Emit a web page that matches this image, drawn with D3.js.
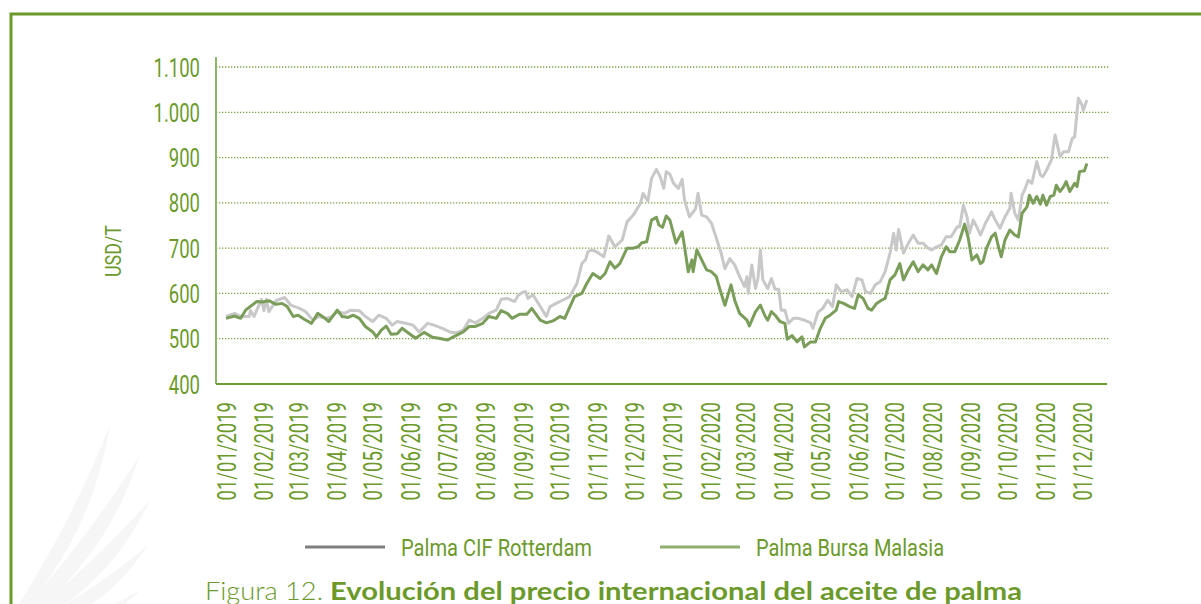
<!DOCTYPE html>
<html>
<head>
<meta charset="utf-8">
<script src="https://cdn.jsdelivr.net/npm/d3@7"></script>
<style>
  body { margin: 0; background: #fff; }
  svg { display: block; }
</style>
</head>
<body>
<div id="chart"></div>
<script>
// Data: day offsets are days since 01/01/2019
const cifDay = [0,7,12,19,20,23,29,31,33,35,41,48,53,60,65,71,76,82,87,91,97,102,109,114,120,125,131,136,140,147,153,158,165,170,177,183,188,194,199,204,210,215,221,225,230,236,239,243,245,247,251,257,262,265,270,276,281,287,291,294,296,299,303,309,313,318,324,328,333,339,341,345,348,352,355,358,360,363,366,370,373,375,379,384,386,389,393,397,401,405,408,412,416,420,424,426,427,430,433,435,437,439,443,446,449,452,454,457,460,464,468,472,478,480,484,488,492,496,499,503,508,512,516,520,523,527,531,535,539,543,546,548,550,554,558,562,566,570,574,577,581,585,589,593,598,600,603,606,608,611,614,617,621,626,629,633,637,641,642,645,648,651,653,656,659,663,666,668,671,675,678,682,685,689,692,694,697,700,701,704];
const cifValue = [549,556,549,549,562,549,587,562,587,560,584,591,574,567,560,541,549,545,549,560,556,563,562,549,538,552,545,530,538,534,530,515,534,530,523,515,513,519,541,535,545,556,563,587,589,582,596,603,604,589,597,571,549,571,578,586,593,622,666,674,692,696,692,681,727,703,718,758,773,799,821,804,854,874,858,832,869,863,843,832,852,806,769,787,821,773,769,755,722,688,655,677,663,637,615,637,600,663,611,633,696,630,611,633,609,609,563,563,534,545,545,542,535,523,558,567,585,571,619,604,608,593,633,630,604,600,619,626,648,689,733,696,741,689,711,729,711,711,700,696,703,707,725,725,747,747,795,769,733,762,747,729,755,780,762,744,769,788,821,777,762,817,828,850,843,891,861,858,872,895,950,902,913,913,942,946,1031,1016,1004,1027];

const bursaDay = [0,7,12,16,25,30,35,41,46,50,55,59,64,70,75,80,84,91,95,100,104,109,114,120,123,127,131,135,140,144,150,155,162,169,174,181,188,194,199,204,210,215,221,225,230,234,240,246,250,257,262,268,273,277,280,285,291,295,300,306,310,314,318,322,328,333,337,340,344,348,352,354,357,360,363,368,373,375,378,381,382,385,389,393,397,401,404,408,413,416,420,426,428,433,437,441,443,446,450,453,457,459,463,467,471,473,478,482,486,490,494,499,501,505,510,514,517,521,525,528,532,536,539,543,547,551,554,558,562,566,570,574,577,581,585,589,592,596,600,604,607,610,614,617,619,622,626,629,632,634,637,641,645,648,651,655,657,660,663,666,668,671,674,677,679,682,685,687,690,694,696,698,702,704];
const bursaValue = [545,550,545,563,582,581,584,576,578,571,549,552,543,534,556,547,538,563,549,547,552,545,527,515,504,519,528,510,511,523,511,501,514,503,501,497,507,515,527,527,534,549,545,562,556,545,554,554,567,541,535,540,549,545,563,593,600,622,644,633,644,670,656,666,700,700,703,712,714,762,768,751,746,771,762,711,736,703,648,674,648,696,674,652,648,637,608,574,619,585,556,541,528,560,574,549,541,560,549,538,534,499,507,493,504,482,493,493,523,545,552,563,582,578,571,567,597,589,567,563,578,585,589,630,641,666,630,652,670,648,663,652,663,644,681,703,692,692,718,753,722,674,685,666,670,700,725,733,700,681,718,740,729,725,777,791,817,799,814,797,817,795,814,817,839,825,836,847,825,843,836,869,871,887];

const seriesNames = ["Palma CIF Rotterdam", "Palma Bursa Malasia"];
const yTicks = [400, 500, 600, 700, 800, 900, 1000, 1100];
// tick labels as printed (the 13th one repeats 2019 in the original)
const xTickLabels = ["01/01/2019","01/02/2019","01/03/2019","01/04/2019","01/05/2019","01/06/2019",
  "01/07/2019","01/08/2019","01/09/2019","01/10/2019","01/11/2019","01/12/2019",
  "01/01/2019","01/02/2020","01/03/2020","01/04/2020","01/05/2020","01/06/2020",
  "01/07/2020","01/08/2020","01/09/2020","01/10/2020","01/11/2020","01/12/2020"];

const green = "#6b9a2b";
const lineGray = "#c8c8c8";
const lineGreen = "#7a9d5a";
const condensed = "Roboto, 'Noto Sans', sans-serif";
const squeeze = 0.74;   // the original uses a condensed face

const start = new Date(2019, 0, 1);
const toDate = d => d3.timeDay.offset(start, d);
const cif = cifDay.map((d, i) => ({date: toDate(d), value: cifValue[i]}));
const bursa = bursaDay.map((d, i) => ({date: toDate(d), value: bursaValue[i]}));
const tickDates = xTickLabels.map((_, i) => new Date(2019, i, 1));

const W = 1201, H = 604;
const plot = {left: 216, right: 1107, top: 67, bottom: 384};

const svg = d3.select("#chart").append("svg")
  .attr("width", W).attr("height", H);

// faint palm-leaf watermark, bottom left
const wm = svg.append("g").attr("fill", "#f6f6f6");
const ox = -5, oy = 640;
[[110, 425, 14], [140, 455, 16], [150, 500, 16], [148, 545, 14], [140, 590, 12]].forEach(([tx, ty, w]) => {
  const mx = (ox + tx) / 2, my = (oy + ty) / 2;
  const dx = tx - ox, dy = ty - oy, len = Math.hypot(dx, dy);
  const nx = -dy / len, ny = dx / len;
  const bend = 28;
  wm.append("path")
    .attr("d", `M${ox},${oy} Q${mx + nx * (bend + w)},${my + ny * (bend + w)} ${tx},${ty} Q${mx + nx * (bend - w)},${my + ny * (bend - w)} ${ox},${oy}Z`);
});

// frame
svg.append("path")
  .attr("d", "M11,604 L11,14 L1201,14")
  .attr("fill", "none").attr("stroke", green).attr("stroke-width", 3);

const x = d3.scaleTime()
  .domain([new Date(2019, 0, 1), new Date(2020, 11, 1)])
  .range([226, 1082]);
const y = d3.scaleLinear().domain([400, 1100]).range([plot.bottom, plot.top]);

const fmt = d3.formatLocale({decimal: ",", thousands: ".", grouping: [3], currency: ["", ""]}).format(",");

// gridlines
svg.append("g").selectAll("line")
  .data(yTicks.filter(v => v > 400))
  .join("line")
  .attr("x1", plot.left).attr("x2", 1110)
  .attr("y1", d => y(d)).attr("y2", d => y(d))
  .attr("stroke", "#7aa23f").attr("stroke-width", 1.3)
  .attr("stroke-dasharray", "1.3,1.7");

// y axis
const yAxis = svg.append("g")
  .attr("transform", `translate(${plot.left},0)`)
  .call(d3.axisLeft(y).tickValues(yTicks).tickFormat(fmt).tickSize(0));
yAxis.select(".domain").remove();
yAxis.selectAll("text")
  .attr("fill", green).style("font-family", condensed).style("font-size", "25px")
  .attr("x", -16 / squeeze).attr("dy", "0.36em")
  .attr("transform", `scale(${squeeze},1)`);

svg.append("line")
  .attr("x1", plot.left).attr("x2", plot.left)
  .attr("y1", 57).attr("y2", plot.bottom)
  .attr("stroke", "#8fb46a").attr("stroke-width", 2);

// x axis
const xAxis = svg.append("g")
  .attr("transform", `translate(0,${plot.bottom})`)
  .call(d3.axisBottom(x).tickValues(tickDates).tickFormat((d, i) => xTickLabels[i]).tickSize(0));
xAxis.select(".domain").remove();
xAxis.selectAll("text")
  .attr("fill", green).style("font-family", condensed).style("font-size", "25px")
  .attr("text-anchor", "end")
  .attr("transform", `rotate(-90) scale(${squeeze},1)`)
  .attr("x", -18 / squeeze).attr("y", 0).attr("dy", "0.36em");

svg.append("line")
  .attr("x1", plot.left).attr("x2", plot.right)
  .attr("y1", plot.bottom).attr("y2", plot.bottom)
  .attr("stroke", "#6f9c35").attr("stroke-width", 2);

// y label
svg.append("text")
  .attr("transform", "translate(121,251) rotate(-90)")
  .attr("text-anchor", "middle")
  .attr("fill", green).style("font-family", condensed).style("font-size", "22px")
  .attr("textLength", 52).attr("lengthAdjust", "spacingAndGlyphs")
  .text("USD/T");

// lines
const line = d3.line().x(d => x(d.date)).y(d => y(d.value));
svg.append("path").datum(cif)
  .attr("d", line).attr("fill", "none")
  .attr("stroke", lineGray).attr("stroke-width", 3).attr("stroke-linejoin", "round");
svg.append("path").datum(bursa)
  .attr("d", line).attr("fill", "none")
  .attr("stroke", lineGreen).attr("stroke-width", 3).attr("stroke-linejoin", "round");

// legend
const legend = svg.append("g");
const legendItems = [
  {name: seriesNames[0], color: "#7f7f7f", x: 305, w: 191},
  {name: seriesNames[1], color: "#8fae6f", x: 660, w: 188}
];
legendItems.forEach(it => {
  legend.append("line")
    .attr("x1", it.x).attr("x2", it.x + 80)
    .attr("y1", 547).attr("y2", 547)
    .attr("stroke", it.color).attr("stroke-width", 3);
  legend.append("text")
    .attr("x", it.x + 96).attr("y", 556)
    .attr("fill", green).style("font-family", condensed).style("font-size", "24px")
    .attr("textLength", it.w).attr("lengthAdjust", "spacingAndGlyphs")
    .text(it.name);
});

// caption
const cap = svg.append("text")
  .attr("x", 205).attr("y", 600)
  .attr("fill", green).style("font-family", "Lato, 'Open Sans', sans-serif").style("font-size", "25px");
cap.append("tspan").style("font-weight", 300)
  .attr("textLength", 118).attr("lengthAdjust", "spacingAndGlyphs").text("Figura 12.");
cap.append("tspan").attr("x", 330).style("font-weight", 700)
  .attr("textLength", 692).attr("lengthAdjust", "spacingAndGlyphs")
  .text("Evolución del precio internacional del aceite de palma");
</script>
</body>
</html>
